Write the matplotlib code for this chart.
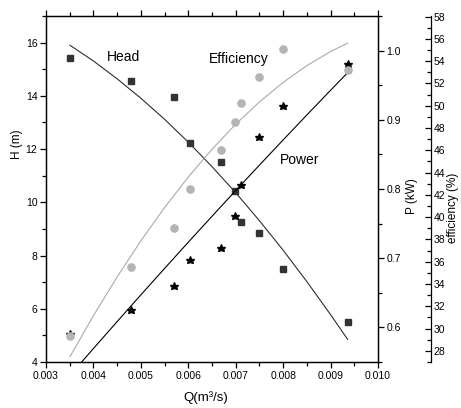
import matplotlib
matplotlib.use("Agg")
import matplotlib.pyplot as plt
from matplotlib.ticker import MultipleLocator, FormatStrFormatter

plt.rcParams['font.family'] = ['Liberation Sans', 'DejaVu Sans']

# Measured data (flow rate in m^3/s)
q = [0.0035, 0.0048, 0.0057, 0.00604, 0.0067, 0.00699, 0.00712, 0.00749, 0.0080, 0.00936]
head = [15.41, 14.54, 13.97, 12.24, 11.50, 10.41, 9.27, 8.86, 7.49, 5.51]
power = [0.590, 0.625, 0.660, 0.698, 0.715, 0.761, 0.806, 0.875, 0.920, 0.981]
eff = [29.3, 35.5, 39.0, 42.5, 46.0, 48.5, 50.2, 52.6, 55.1, 53.2]

# Fitted curves
head_fit_q = [0.003506, 0.004, 0.0045, 0.005, 0.0055, 0.006, 0.0065, 0.007, 0.0075, 0.008, 0.0085, 0.009, 0.00936]
head_fit_h = [15.90, 15.31, 14.64, 13.91, 13.12, 12.26, 11.34, 10.36, 9.31, 8.20, 7.02, 5.78, 4.85]
power_fit_q = [0.003752, 0.004, 0.0045, 0.005, 0.0055, 0.006, 0.0065, 0.007, 0.0075, 0.008, 0.0085, 0.009, 0.00936]
power_fit_p = [0.550, 0.5695, 0.6084, 0.6470, 0.6852, 0.7231, 0.7606, 0.7978, 0.8345, 0.8709, 0.9070, 0.9427, 0.9681]
eff_fit_q = [0.003506, 0.004, 0.0045, 0.005, 0.0055, 0.006, 0.0065, 0.007, 0.0075, 0.008, 0.0085, 0.009, 0.00936]
eff_fit_e = [27.48, 31.16, 34.64, 37.87, 40.86, 43.60, 46.09, 48.34, 50.34, 52.09, 53.60, 54.86, 55.61]

x_ticks = [0.003, 0.004, 0.005, 0.006, 0.007, 0.008, 0.009, 0.010]

fig = plt.figure(figsize=(4.61, 4.08), dpi=100)
ax = fig.add_axes([46/461, 1-362/408, 332/461, 346/408])
ax2 = ax.twinx()
ax3 = ax.twinx()

tick_fs = 7.5
lab_fs = 8.5

# Head
ax.plot(head_fit_q, head_fit_h, color='#2e2e2e', lw=0.8, zorder=2)
ax.plot(q, head, ls='none', marker='s', ms=4.5, color='#333333', zorder=3)
ax.set_xlim(0.003, 0.010)
ax.set_ylim(4, 17)
ax.set_xticks(x_ticks)
ax.xaxis.set_major_formatter(FormatStrFormatter('%.3f'))
ax.xaxis.set_minor_locator(MultipleLocator(0.0005))
ax.yaxis.set_major_locator(MultipleLocator(2))
ax.yaxis.set_minor_locator(MultipleLocator(1))
ax.tick_params(which='both', direction='out', top=True, labelsize=tick_fs, width=0.9, pad=2)
ax.tick_params(which='major', length=4.2)
ax.tick_params(which='minor', length=2.8)
ax.set_ylabel('H (m)', fontsize=lab_fs, labelpad=4)
ax.yaxis.set_label_coords(-0.068, 0.63)
ax.set_xlabel('Q(m³/s)', fontsize=9.5, labelpad=4)
ax.xaxis.set_label_coords(0.48, -0.085)

# Power
ax2.plot(power_fit_q, power_fit_p, color='black', lw=0.8, zorder=2)
ax2.plot(q, power, ls='none', marker='*', ms=6.2, color='black', zorder=3)
ax2.set_ylim(0.55, 1.05)
ax2.yaxis.set_major_locator(MultipleLocator(0.1))
ax2.yaxis.set_minor_locator(MultipleLocator(0.05))
ax2.yaxis.set_major_formatter(FormatStrFormatter('%.1f'))
ax2.tick_params(which='both', direction='out', labelsize=tick_fs, width=0.9, pad=2)
ax2.tick_params(which='major', length=4.2)
ax2.tick_params(which='minor', length=2.8)
ax2.set_ylabel('P (kW)', fontsize=lab_fs)
ax2.yaxis.set_label_coords(1.085, 0.48)

# Efficiency
ax3.plot(eff_fit_q, eff_fit_e, color='#aaaaaa', lw=0.8, zorder=2)
ax3.plot(q, eff, ls='none', marker='o', ms=5.2, color='#b4b4b4', zorder=3)
ax3.set_ylim(27, 58.05)
ax3.spines['right'].set_position(('axes', 1.16))
ax3.yaxis.set_major_locator(MultipleLocator(2))
ax3.yaxis.set_minor_locator(MultipleLocator(1))
ax3.tick_params(which='both', direction='in', labelsize=tick_fs, width=0.9, pad=2)
ax3.tick_params(which='major', length=4.2)
ax3.tick_params(which='minor', length=2.8)
fig.text(453/461, 1-208/408, 'efficiency (%)', fontsize=lab_fs, rotation=90,
         ha='center', va='center')

for a in (ax, ax2, ax3):
    for s in a.spines.values():
        s.set_linewidth(0.9)
    a.patch.set_visible(False)
ax3.spines['left'].set_visible(False)
ax3.spines['top'].set_visible(False)
ax3.spines['bottom'].set_visible(False)

# Curve labels
ax.text(0.00463, 15.47, 'Head', fontsize=10, ha='center', va='center')
ax.text(0.007055, 15.40, 'Efficiency', fontsize=10, ha='center', va='center')
ax.text(0.00834, 11.58, 'Power', fontsize=10, ha='center', va='center')

fig.savefig('out.png', dpi=100)
